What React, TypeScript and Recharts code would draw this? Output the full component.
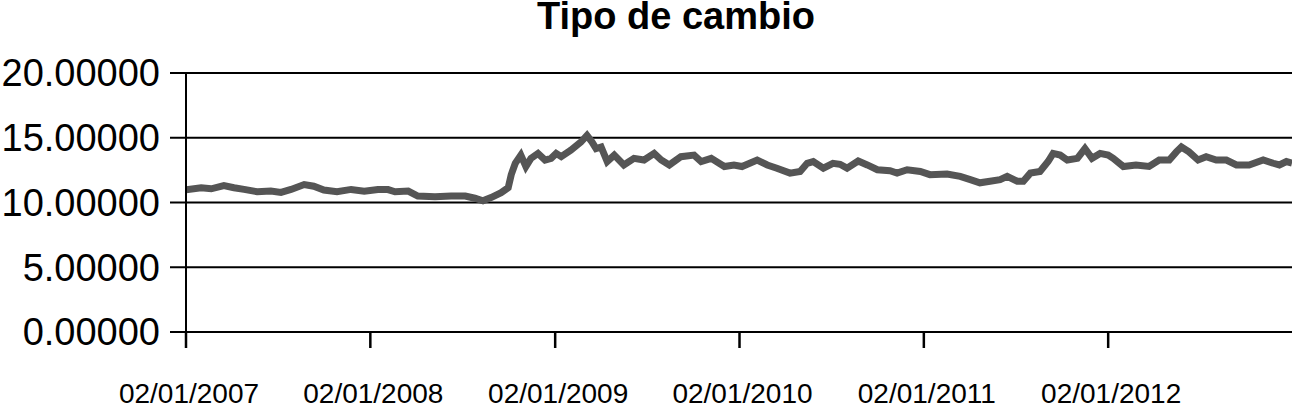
import { LineChart, Line, XAxis, YAxis, CartesianGrid } from 'recharts';

const dates = [
  '2007-01-02', '2007-02-01', '2007-02-21', '2007-03-18', '2007-04-07', '2007-04-27',
  '2007-05-23', '2007-06-19', '2007-07-09', '2007-07-29', '2007-08-24', '2007-09-12',
  '2007-10-02', '2007-10-28', '2007-11-25', '2007-12-21', '2008-01-17', '2008-02-06',
  '2008-02-20', '2008-03-17', '2008-04-05', '2008-05-09', '2008-06-10', '2008-07-08',
  '2008-07-27', '2008-08-12', '2008-08-28', '2008-09-17', '2008-10-01', '2008-10-07',
  '2008-10-15', '2008-10-26', '2008-11-05', '2008-11-15', '2008-11-29', '2008-12-13',
  '2008-12-25', '2009-01-04', '2009-01-14', '2009-02-02', '2009-02-22', '2009-03-06',
  '2009-03-16', '2009-03-24', '2009-04-03', '2009-04-15', '2009-04-29', '2009-05-18',
  '2009-06-07', '2009-06-27', '2009-07-17', '2009-07-31', '2009-08-16', '2009-09-08',
  '2009-10-04', '2009-10-18', '2009-11-07', '2009-12-03', '2009-12-22', '2010-01-07',
  '2010-02-06', '2010-02-26', '2010-03-17', '2010-04-12', '2010-05-02', '2010-05-16',
  '2010-05-28', '2010-06-17', '2010-07-06', '2010-07-20', '2010-08-03', '2010-08-25',
  '2010-09-12', '2010-10-02', '2010-10-27', '2010-11-10', '2010-11-30', '2010-12-26',
  '2011-01-14', '2011-02-17', '2011-03-15', '2011-04-04', '2011-04-23', '2011-05-13',
  '2011-06-02', '2011-06-16', '2011-07-06', '2011-07-18', '2011-08-01', '2011-08-20',
  '2011-09-05', '2011-09-15', '2011-09-29', '2011-10-13', '2011-11-02', '2011-11-17',
  '2011-12-01', '2011-12-17', '2012-01-02', '2012-01-12', '2012-02-01', '2012-02-26',
  '2012-03-23', '2012-04-12', '2012-05-02', '2012-05-16', '2012-05-26', '2012-06-10',
  '2012-06-28', '2012-07-14', '2012-08-03', '2012-08-23', '2012-09-12', '2012-10-07',
  '2012-11-04', '2012-11-24', '2012-12-06', '2012-12-20', '2012-12-31',
];

const rates = [
  10.98, 11.14, 11.06, 11.31, 11.14, 11.01,
  10.83, 10.88, 10.78, 11.01, 11.39, 11.26,
  10.96, 10.83, 11.01, 10.88, 11.01, 11.0,
  10.83, 10.88, 10.5, 10.45, 10.5, 10.5,
  10.33, 10.13, 10.38, 10.76, 11.14, 12.15,
  13.03, 13.66, 12.78, 13.41, 13.79, 13.28,
  13.41, 13.79, 13.54, 14.04, 14.67, 15.18,
  14.67, 14.17, 14.29, 13.16, 13.66, 12.9,
  13.41, 13.28, 13.79, 13.28, 12.9, 13.54,
  13.66, 13.16, 13.41, 12.78, 12.9, 12.78,
  13.28, 12.9, 12.65, 12.27, 12.4, 13.03,
  13.16, 12.65, 13.03, 12.95, 12.65, 13.2,
  12.9, 12.53, 12.45, 12.27, 12.53, 12.4,
  12.15, 12.2, 12.02, 11.77, 11.52, 11.64,
  11.77, 12.02, 11.64, 11.64, 12.27, 12.4,
  13.16, 13.79, 13.66, 13.28, 13.41, 14.17,
  13.41, 13.79, 13.66, 13.41, 12.78, 12.9,
  12.78, 13.28, 13.28, 13.91, 14.29, 13.91,
  13.28, 13.54, 13.28, 13.28, 12.9, 12.9,
  13.28, 13.03, 12.9, 13.16, 13.05,
];

const yearTicks = ['2007-01-02', '2008-01-02', '2009-01-02', '2010-01-02', '2011-01-02', '2012-01-02'];
const valueTicks = [0, 5, 10, 15, 20];

const data = dates.map((d, i) => ({ t: Date.parse(d), rate: rates[i] }));
const xTicks = yearTicks.map((d) => Date.parse(d));
const xDomain = [Date.parse('2007-01-02'), Date.parse('2012-12-31')];

const pad = (n: number) => String(n).padStart(2, '0');
const fmtDate = (v: number) => {
  const d = new Date(v);
  return `${pad(d.getUTCDate())}/${pad(d.getUTCMonth() + 1)}/${d.getUTCFullYear()}`;
};

const font = '"Liberation Sans", Arial, sans-serif';

export default function App() {
  return (
    <div style={{ position: 'relative', width: 1292, height: 406, background: '#fff', fontFamily: font }}>
      <style>{'body{margin:0}'}</style>
      <div
        style={{
          position: 'absolute',
          top: -3,
          left: 0,
          width: 1352,
          textAlign: 'center',
          fontSize: 38,
          lineHeight: '38px',
          fontWeight: 'bold',
          color: '#000',
        }}
      >
        Tipo de cambio
      </div>
      <LineChart width={1292} height={406} data={data} margin={{ top: 73, right: 0, bottom: 0, left: 0 }}>
        <CartesianGrid vertical={false} stroke='#000' strokeWidth={2} horizontalValues={valueTicks} />
        <XAxis
          dataKey='t'
          type='number'
          domain={xDomain}
          ticks={xTicks}
          interval={0}
          tickFormatter={fmtDate}
          height={74}
          tickSize={16}
          tickMargin={35}
          axisLine={{ stroke: '#000', strokeWidth: 2 }}
          tickLine={{ stroke: '#000', strokeWidth: 2.5 }}
          tick={{ fill: '#000', fontSize: 28, fontFamily: font, dx: 3 }}
          allowDataOverflow
        />
        <YAxis
          type='number'
          domain={[0, 20]}
          ticks={valueTicks}
          interval={0}
          tickFormatter={(v: number) => v.toFixed(5)}
          width={186}
          tickSize={16}
          tickMargin={10}
          axisLine={{ stroke: '#000', strokeWidth: 2 }}
          tickLine={{ stroke: '#000', strokeWidth: 2 }}
          tick={{ fill: '#000', fontSize: 38, fontFamily: font }}
        />
        <Line
          type='linear'
          dataKey='rate'
          stroke='#555555'
          strokeWidth={7}
          dot={false}
          isAnimationActive={false}
        />
      </LineChart>
    </div>
  );
}
